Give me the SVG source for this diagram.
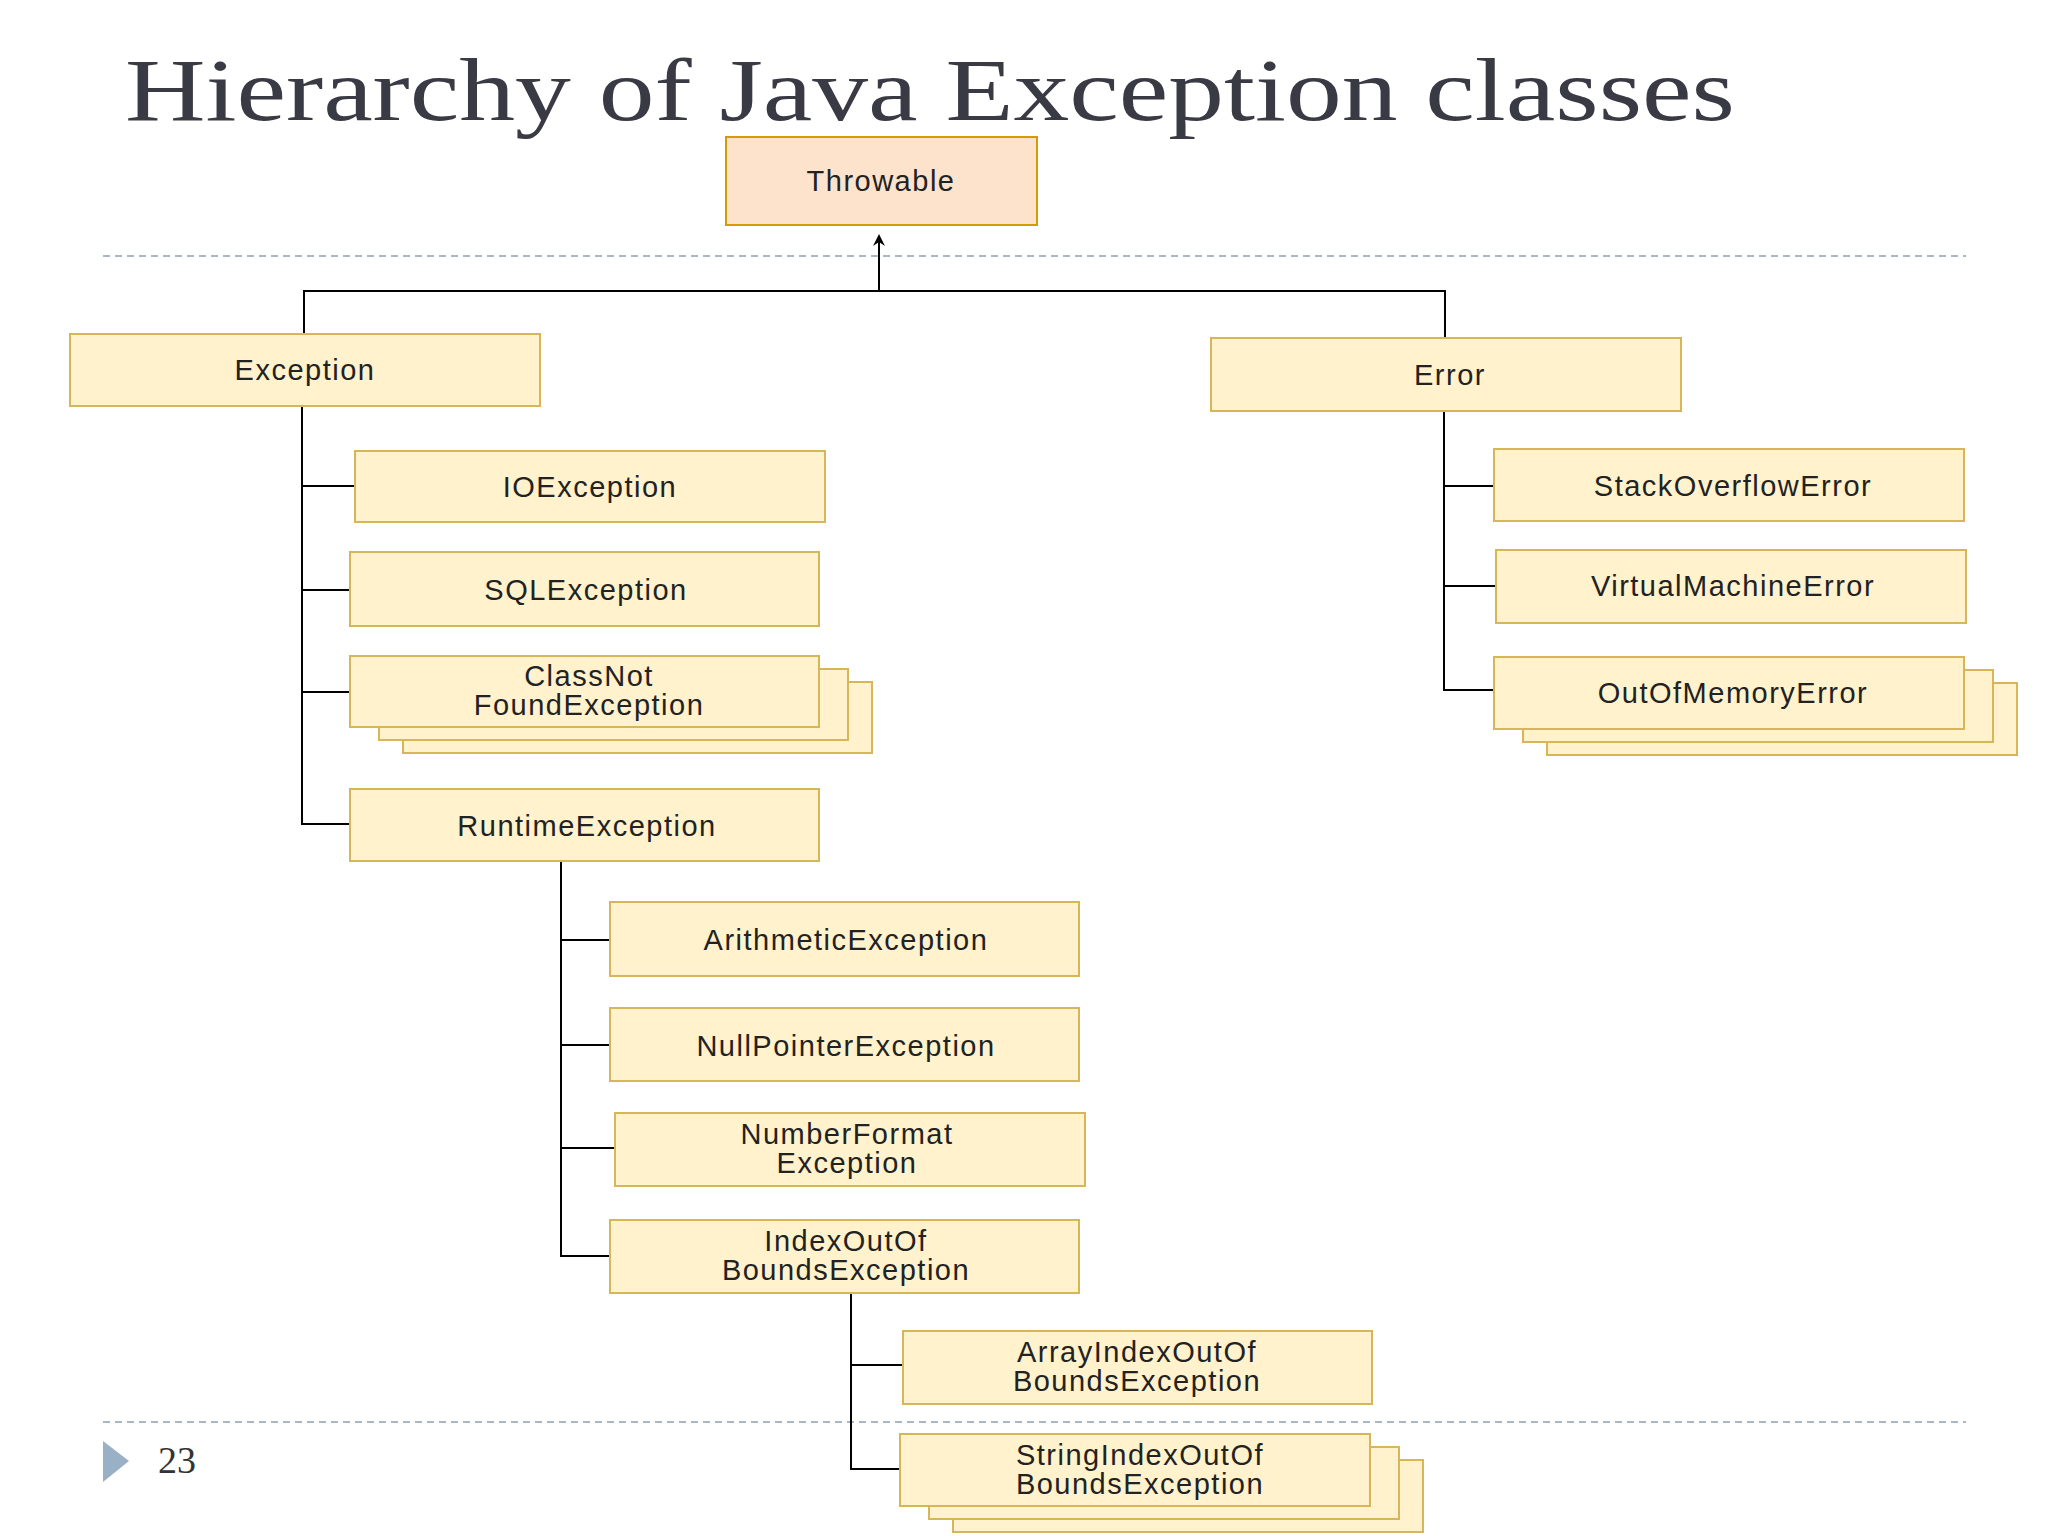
<svg xmlns="http://www.w3.org/2000/svg" width="2048" height="1536" viewBox="0 0 2048 1536">
<style>
.b{fill:#fff2cc;stroke:#d6b656;stroke-width:2}
.t{font-family:"Liberation Sans",Arial,sans-serif;font-size:29px;fill:#222;text-anchor:middle;letter-spacing:1.5px}
.c{fill:none;stroke:#000;stroke-width:2}
.d{stroke:#a8b8c8;stroke-width:2;stroke-dasharray:7,5}
</style>
<defs><marker id="a" markerWidth="12" markerHeight="12" refX="6" refY="6" orient="auto" markerUnits="userSpaceOnUse"><path d="M0,0 L12,6 L0,12 L4,6z" fill="#000"/></marker></defs>
<rect width="2048" height="1536" fill="#fff"/>
<text x="125" y="120" font-family="Liberation Serif,serif" font-size="88" fill="#3a3a44" textLength="1610" lengthAdjust="spacingAndGlyphs">Hierarchy of Java Exception classes</text>
<line class="d" x1="103" y1="256" x2="1966" y2="256"/>
<line class="d" x1="103" y1="1422" x2="1966" y2="1422"/>
<polygon points="103,1441 129,1461 103,1482" fill="#9ab0c6"/>
<text x="158" y="1473" font-family="Liberation Serif,serif" font-size="38" fill="#333">23</text>
<g id="connectors">
<path class="c" d="M879,291 V240" marker-end="url(#a)"/>
<path class="c" d="M304,334 V291 H1445 V338"/>
<path class="c" d="M302,406 V824 H350 M302,486 H355 M302,590 H350 M302,692 H350"/>
<path class="c" d="M561,861 V1256 H610 M561,940 H610 M561,1045 H610 M561,1148 H615"/>
<path class="c" d="M851,1293 V1469 H900 M851,1365 H903"/>
<path class="c" d="M1444,411 V690 H1494 M1444,486 H1494 M1444,586 H1496"/>
</g>
<g id="throwable"><rect x="726" y="137" width="311" height="88" fill="#fde2cc" stroke="#d79b00" stroke-width="2"/><text class="t" x="881" y="191">Throwable</text></g>
<g id="exception"><rect class="b" x="70" y="334" width="470" height="72"/><text class="t" x="305" y="380">Exception</text></g>
<g id="error"><rect class="b" x="1211" y="338" width="470" height="73"/><text class="t" x="1450" y="385">Error</text></g>
<g id="ioexception"><rect class="b" x="355" y="451" width="470" height="71"/><text class="t" x="590" y="497">IOException</text></g>
<g id="sqlexception"><rect class="b" x="350" y="552" width="469" height="74"/><text class="t" x="586" y="600">SQLException</text></g>
<g id="classnotfound"><rect class="b" x="403" y="682" width="469" height="71"/><rect class="b" x="379" y="669" width="469" height="71"/><rect class="b" x="350" y="656" width="469" height="71"/><text class="t" x="589" y="686">ClassNot</text><text class="t" x="589" y="715">FoundException</text></g>
<g id="runtime"><rect class="b" x="350" y="789" width="469" height="72"/><text class="t" x="587" y="836">RuntimeException</text></g>
<g id="arithmetic"><rect class="b" x="610" y="902" width="469" height="74"/><text class="t" x="846" y="950">ArithmeticException</text></g>
<g id="nullpointer"><rect class="b" x="610" y="1008" width="469" height="73"/><text class="t" x="846" y="1056">NullPointerException</text></g>
<g id="numberformat"><rect class="b" x="615" y="1113" width="470" height="73"/><text class="t" x="847" y="1144">NumberFormat</text><text class="t" x="847" y="1173">Exception</text></g>
<g id="indexoutofbounds"><rect class="b" x="610" y="1220" width="469" height="73"/><text class="t" x="846" y="1251">IndexOutOf</text><text class="t" x="846" y="1280">BoundsException</text></g>
<g id="arrayindex"><rect class="b" x="903" y="1331" width="469" height="73"/><text class="t" x="1137" y="1362">ArrayIndexOutOf</text><text class="t" x="1137" y="1391">BoundsException</text></g>
<g id="stringindex"><rect class="b" x="953" y="1460" width="470" height="72"/><rect class="b" x="929" y="1447" width="470" height="72"/><rect class="b" x="900" y="1434" width="470" height="72"/><text class="t" x="1140" y="1465">StringIndexOutOf</text><text class="t" x="1140" y="1494">BoundsException</text></g>
<g id="stackoverflow"><rect class="b" x="1494" y="449" width="470" height="72"/><text class="t" x="1733" y="496">StackOverflowError</text></g>
<g id="virtualmachine"><rect class="b" x="1496" y="550" width="470" height="73"/><text class="t" x="1733" y="596">VirtualMachineError</text></g>
<g id="outofmemory"><rect class="b" x="1547" y="683" width="470" height="72"/><rect class="b" x="1523" y="670" width="470" height="72"/><rect class="b" x="1494" y="657" width="470" height="72"/><text class="t" x="1733" y="703">OutOfMemoryError</text></g>
</svg>
